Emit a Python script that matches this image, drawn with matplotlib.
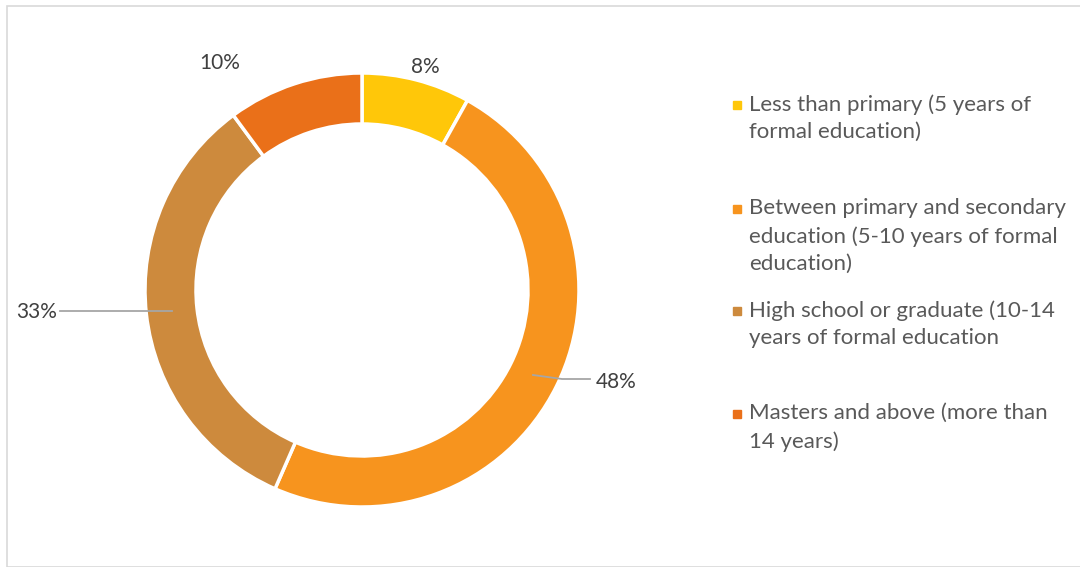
import matplotlib.pyplot as plt
from matplotlib.patches import Rectangle

plt.rcParams['font.family'] = ['Lato', 'DejaVu Sans']

# data
categories = [
    "Less than primary (5 years of\nformal education)",
    "Between primary and secondary\neducation (5-10 years of formal\neducation)",
    "High school or graduate (10-14\nyears of formal education",
    "Masters and above (more than\n14 years)",
]
values = [8, 48, 33, 10]
labels = ["8%", "48%", "33%", "10%"]
colors = ["#FFC709", "#F7941E", "#CD8A3D", "#EA7019"]

W, H = 1080, 567
fig = plt.figure(figsize=(W / 100, H / 100), dpi=100)

# chart frame
fig.patches.append(Rectangle((7 / W, 0), 1.2, 1 - 6 / H, transform=fig.transFigure,
                             fill=False, edgecolor="#D9D9D9", linewidth=1.2))

cx, cy, r = 362, 290, 217
ax = fig.add_axes([(cx - r) / W, (H - cy - r) / H, 2 * r / W, 2 * r / H])
ax.pie(values, colors=colors, startangle=90, counterclock=False, radius=1,
       wedgeprops=dict(width=0.235, edgecolor="white", linewidth=2.5))
ax.set_xlim(-1, 1)
ax.set_ylim(-1, 1)
ax.axis("off")

txt = dict(fontsize=15, color="#404040", ha="center", va="center", clip_on=False)

def d(px, py):
    return ((px - cx) / r, (cy - py) / r)

ax.text(*d(425, 67), labels[0], **txt)
ax.text(*d(220, 63), labels[3], **txt)
ax.text(*d(37, 312), labels[2], **txt)
ax.text(*d(616, 382), labels[1], **txt)

# leader lines
lx, ly = zip(d(60, 311), d(172, 311))
ax.plot(lx, ly, color="#A6A6A6", lw=1.3, clip_on=False)
lx, ly = zip(d(533, 375), d(562, 379), d(590, 379))
ax.plot(lx, ly, color="#A6A6A6", lw=1.3, clip_on=False)

# legend
first_lines = [105, 209, 311, 414]
for lab, col, y in zip(categories, colors, first_lines):
    fig.patches.append(Rectangle(((737 - 4) / W, (H - y - 4) / H), 8 / W, 8 / H,
                                 transform=fig.transFigure, color=col))
    fig.text(749 / W, (H - y + 11) / H, lab, fontsize=16, color="#595959",
             ha="left", va="top", linespacing=1.48)

fig.savefig("out.png", dpi=100)
